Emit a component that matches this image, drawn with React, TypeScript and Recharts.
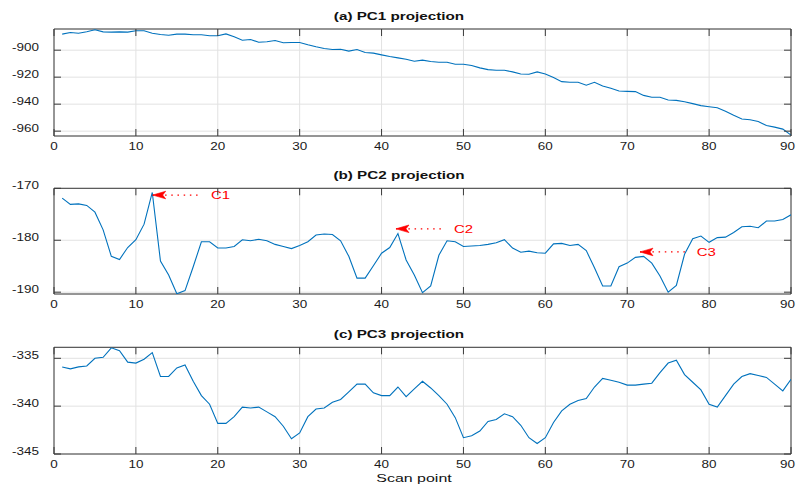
import React from 'react';
import { LineChart, Line, CartesianGrid, XAxis, YAxis, ReferenceArea, ReferenceLine, ReferenceDot } from 'recharts';

// scan point index (x) for every sample
const SCAN_POINTS = [
  1, 2, 3, 4, 5, 6, 7, 8, 9, 10, 11, 12, 13, 14, 15, 16, 17, 18, 19, 20,
  21, 22, 23, 24, 25, 26, 27, 28, 29, 30, 31, 32, 33, 34, 35, 36, 37, 38, 39, 40,
  41, 42, 43, 44, 45, 46, 47, 48, 49, 50, 51, 52, 53, 54, 55, 56, 57, 58, 59, 60,
  61, 62, 63, 64, 65, 66, 67, 68, 69, 70, 71, 72, 73, 74, 75, 76, 77, 78, 79, 80,
  81, 82, 83, 84, 85, 86, 87, 88, 89, 90,
];

const PC1 = [
  -888.1, -886.9, -887.4, -886.4, -884.9, -886.4, -886.6, -886.4, -886.6, -885.6,
  -885.6, -887.4, -888.4, -888.9, -888.1, -888.1, -888.6, -888.6, -889.3, -889.3,
  -887.9, -890.1, -892.6, -892.1, -894.1, -893.8, -892.8, -894.5, -894.3, -894.3,
  -896.0, -897.5, -898.8, -899.5, -899.3, -900.7, -899.5, -901.7, -902.2, -903.5,
  -904.7, -905.7, -906.7, -908.2, -907.4, -908.4, -908.9, -908.9, -910.4, -910.4,
  -911.4, -913.1, -914.4, -914.9, -914.9, -916.1, -917.6, -917.8, -916.1, -917.6,
  -920.3, -923.3, -923.8, -923.8, -926.0, -923.8, -926.5, -928.2, -930.2, -930.5,
  -930.7, -933.5, -934.9, -934.9, -936.9, -937.2, -938.2, -939.6, -941.1, -941.9,
  -942.7, -945.3, -948.3, -951.0, -951.5, -952.8, -955.8, -957.0, -958.5, -962.9,
];

const PC2 = [
  -171.9, -173.1, -173.0, -173.3, -174.6, -178.0, -183.1, -183.7, -181.4, -179.9,
  -176.9, -170.8, -184.0, -186.7, -190.3, -189.7, -185.1, -180.3, -180.3, -181.5,
  -181.5, -181.2, -179.9, -180.1, -179.8, -180.1, -180.8, -181.2, -181.6, -181.0,
  -180.3, -179.0, -178.8, -178.9, -180.1, -183.1, -187.3, -187.3, -184.9, -182.5,
  -181.4, -178.7, -183.8, -186.7, -190.1, -188.8, -182.9, -180.1, -180.3, -181.2,
  -181.1, -181.0, -180.8, -180.5, -179.9, -181.5, -182.3, -182.1, -182.4, -182.5,
  -180.7, -180.6, -181.0, -180.8, -182.0, -185.3, -188.8, -188.8, -185.1, -184.4,
  -183.3, -183.1, -184.4, -186.9, -190.0, -188.7, -182.7, -179.7, -179.2, -180.4,
  -179.5, -179.4, -178.5, -177.4, -177.3, -177.6, -176.3, -176.3, -176.0, -175.1,
];

const PC3 = [
  -335.9, -336.1, -335.9, -335.8, -335.0, -334.9, -333.9, -334.2, -335.4, -335.5,
  -335.1, -334.4, -336.9, -336.9, -336.0, -335.7, -337.4, -338.9, -339.8, -341.8,
  -341.8, -341.1, -340.1, -340.2, -340.1, -340.6, -341.1, -342.1, -343.4, -342.8,
  -341.1, -340.3, -340.2, -339.6, -339.3, -338.5, -337.7, -337.7, -338.6, -338.9,
  -338.9, -338.0, -339.0, -338.2, -337.4, -338.1, -338.9, -339.8, -341.2, -343.3,
  -343.1, -342.6, -341.6, -341.4, -340.8, -341.1, -342.0, -343.3, -343.9, -343.3,
  -341.7, -340.5, -339.8, -339.4, -339.2, -338.0, -337.1, -337.3, -337.5, -337.8,
  -337.8, -337.7, -337.6, -336.5, -335.5, -335.2, -336.7, -337.5, -338.3, -339.8,
  -340.1, -338.9, -337.7, -336.9, -336.6, -336.8, -337.0, -337.7, -338.4, -337.2,
];

const X_TICKS = [0, 10, 20, 30, 40, 50, 60, 70, 80, 90];
const PC1_TICKS = [-960, -940, -920, -900];
const PC2_TICKS = [-190, -180, -170];
const PC3_TICKS = [-345, -340, -335];

// callouts on the PC2 panel
const CALLOUT_LABELS = ['C1', 'C2', 'C3'];
const CALLOUT_TIP_X = [12.05, 41.76, 71.56];
const CALLOUT_END_X = [18.07, 47.75, 77.4];
const CALLOUT_Y = [-171.3, -177.8, -182.25];

const W = 796;
const H = 492;
const PLOT_LEFT = 54;
const PLOT_RIGHT = 791;
const FONT = '"Liberation Sans", Arial, Helvetica, sans-serif';
const AXIS_COLOR = '#3a3a3a';
const TICK_LEN = 7;

type Panel = {
  title: string;
  data: number[];
  ticks: number[];
  domain: [number, number];
  top: number;
  bottom: number;
  titleY: number;
};

const panels: Panel[] = [
  { title: '(a) PC1 projection', data: PC1, ticks: PC1_TICKS, domain: [-963.6, -884.3], top: 29, bottom: 136, titleY: 16 },
  { title: '(b) PC2 projection', data: PC2, ticks: PC2_TICKS, domain: [-190.35, -170], top: 188.3, bottom: 294, titleY: 175 },
  { title: '(c) PC3 projection', data: PC3, ticks: PC3_TICKS, domain: [-345, -333.85], top: 347.3, bottom: 454, titleY: 334 },
];

const StretchText: React.FC<{ x: number; y: number; anchor: string; size: number; sx: number; fill?: string; weight?: string; children: React.ReactNode }> = ({ x, y, anchor, size, sx, fill = '#1a1a1a', weight = 'normal', children }) => (
  <text
    x={0}
    y={0}
    transform={`translate(${x},${y}) scale(${sx},1)`}
    textAnchor={anchor}
    dominantBaseline="central"
    fontFamily={FONT}
    fontSize={size}
    fontWeight={weight}
    fill={fill}
  >
    {children}
  </text>
);

const xTick = (p: Panel) => (props: any) => {
  const { x, payload } = props;
  // keep the edge labels inside the figure, like the original export
  const lx = Math.min(Math.max(x, 52.5), 787.5);
  return (
    <g>
      <line x1={x} y1={p.bottom} x2={x} y2={p.bottom - TICK_LEN} stroke={AXIS_COLOR} />
      <line x1={x} y1={p.top} x2={x} y2={p.top + TICK_LEN} stroke={AXIS_COLOR} />
      <StretchText x={lx} y={p.bottom + 11} anchor="middle" size={10} sx={1.35}>{payload.value}</StretchText>
    </g>
  );
};

const yTick = () => (props: any) => {
  const { y, payload } = props;
  return (
    <g>
      <line x1={PLOT_LEFT} y1={y} x2={PLOT_LEFT + TICK_LEN} y2={y} stroke={AXIS_COLOR} />
      <line x1={PLOT_RIGHT} y1={y} x2={PLOT_RIGHT - TICK_LEN} y2={y} stroke={AXIS_COLOR} />
      <StretchText x={12} y={y - 2.5} anchor="start" size={10} sx={1.35}>{payload.value}</StretchText>
    </g>
  );
};

const ArrowHead = (props: any) => {
  const { cx, cy } = props;
  return (
    <polygon
      points={`${cx},${cy} ${cx + 13},${cy - 3.8} ${cx + 10},${cy} ${cx + 13},${cy + 3.8}`}
      fill="#ff0000"
      stroke="#ff0000"
      strokeWidth={0.6}
    />
  );
};

const calloutText = (label: string) => (props: any) => (
  <StretchText x={props.cx + 9} y={props.cy} anchor="start" size={11.5} sx={1.3} fill="#ff0000">{label}</StretchText>
);

const PanelChart: React.FC<{ p: Panel; withCallouts?: boolean }> = ({ p, withCallouts }) => {
  const rows = SCAN_POINTS.map((s, i) => ({ scan: s, value: p.data[i] }));
  return (
    <div style={{ position: 'absolute', left: 0, top: 0 }}>
      <LineChart
        width={W}
        height={H}
        data={rows}
        margin={{ top: p.top, right: W - PLOT_RIGHT, bottom: H - p.bottom - 20, left: 0 }}
      >
        <CartesianGrid stroke="#e2e2e2" strokeWidth={1} />
        <XAxis
          dataKey="scan"
          type="number"
          domain={[0, 90]}
          ticks={X_TICKS}
          height={20}
          axisLine={false}
          tickLine={false}
          tick={xTick(p)}
          interval={0}
          allowDataOverflow
        />
        <YAxis
          type="number"
          domain={p.domain}
          ticks={p.ticks}
          width={PLOT_LEFT}
          axisLine={false}
          tickLine={false}
          tick={yTick()}
          interval={0}
          allowDataOverflow
        />
        <Line type="linear" dataKey="value" stroke="#0072BD" strokeWidth={1.1} dot={false} isAnimationActive={false} />
        <ReferenceArea x1={0} x2={90} y1={p.domain[0]} y2={p.domain[1]} fill="none" fillOpacity={0} stroke={AXIS_COLOR} strokeWidth={1} />
        {withCallouts && CALLOUT_LABELS.map((label, i) => (
          <ReferenceLine
            key={`l${label}`}
            segment={[{ x: CALLOUT_TIP_X[i], y: CALLOUT_Y[i] }, { x: CALLOUT_END_X[i], y: CALLOUT_Y[i] }]}
            stroke="#ff0000"
            strokeWidth={1.3}
            strokeDasharray="1.5 4.7"
          />
        ))}
        {withCallouts && CALLOUT_LABELS.map((label, i) => (
          <ReferenceDot key={`a${label}`} x={CALLOUT_TIP_X[i]} y={CALLOUT_Y[i]} r={3} shape={ArrowHead} />
        ))}
        {withCallouts && CALLOUT_LABELS.map((label, i) => (
          <ReferenceDot key={`t${label}`} x={CALLOUT_END_X[i]} y={CALLOUT_Y[i]} r={3} shape={calloutText(label)} />
        ))}
      </LineChart>
    </div>
  );
};

const textStyle = (left: number, top: number, size: number, sx: number, bold: boolean): React.CSSProperties => ({
  position: 'absolute',
  left,
  top,
  transform: `translate(-50%, -50%) scaleX(${sx})`,
  fontFamily: FONT,
  fontSize: size,
  fontWeight: bold ? 'bold' : 'normal',
  color: '#111',
  whiteSpace: 'nowrap',
  lineHeight: 1,
});

export default function App() {
  return (
    <div style={{ position: 'absolute', left: 0, top: 0, width: W, height: H, background: '#fff', overflow: 'hidden' }}>
      {panels.map((p, i) => (
        <PanelChart key={p.title} p={p} withCallouts={i === 1} />
      ))}
      {panels.map((p) => (
        <div key={`t${p.title}`} style={textStyle(399, p.titleY, 10.5, 1.45, true)}>{p.title}</div>
      ))}
      <div style={textStyle(414, 478, 11, 1.45, false)}>Scan point</div>
    </div>
  );
}
